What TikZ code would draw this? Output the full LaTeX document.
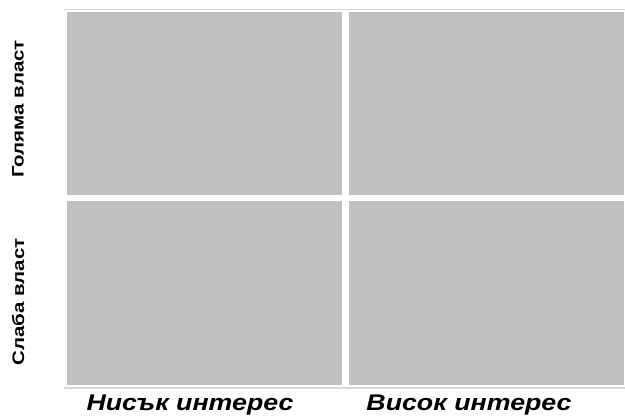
\documentclass[tikz,border=0pt]{standalone}
\usepackage{fontspec}
\setmainfont{Liberation Sans}
\newfontfamily\widesans[FakeStretch=1.23]{Liberation Sans}
\newfontfamily\wideital[FakeStretch=1.18]{Liberation Sans}
\usepackage{xcolor}
\usetikzlibrary{positioning}

\definecolor{cellgrey}{RGB}{192,192,192}
\definecolor{rulegrey}{RGB}{216,216,216}

\begin{document}
\begin{tikzpicture}[
  x=0.75pt, y=-0.75pt,
  node distance=4.5pt and 5pt,
  cell/.style={
    rectangle, fill=cellgrey, draw=none,
    inner sep=0pt, outer sep=0pt,
    minimum width=206.5pt, minimum height=137.5pt
  },
  powlabel/.style={
    font=\widesans\bfseries\fontsize{12.5}{14}\selectfont, rotate=90
  },
  intlabel/.style={
    font=\wideital\bfseries\itshape\fontsize{17}{20}\selectfont
  },
  rule/.style={draw=rulegrey, line width=1pt}
]
  \useasboundingbox (0,0) rectangle (625,419);

  % the four quadrants
  \node [cell, anchor=north west] (hilow) at (67,12) {};
  \node [cell, right=of hilow] (hihigh) {};
  \node [cell, below=of hilow] (lolow) {};
  \node [cell, below=of hihigh] (lohigh) {};

  % frame lines top and bottom
  \coordinate (topl) at (64,9.5);
  \coordinate (topr) at (625,9.5);
  \coordinate (botl) at (64,388);
  \coordinate (botr) at (625,388);
  \path [rule] (topl) -- (topr);
  \path [rule] (botl) -- (botr);

  % axis labels
  \node [powlabel] (highpow) at (18,109) {Голяма власт};
  \node [powlabel] (lowpow) at (18,302) {Слаба власт};
  \node [intlabel, anchor=base] (lowint) at (190,410) {Нисък интерес};
  \node [intlabel, anchor=base] (highint) at (469,410) {Висок интерес};

\end{tikzpicture}
\end{document}
